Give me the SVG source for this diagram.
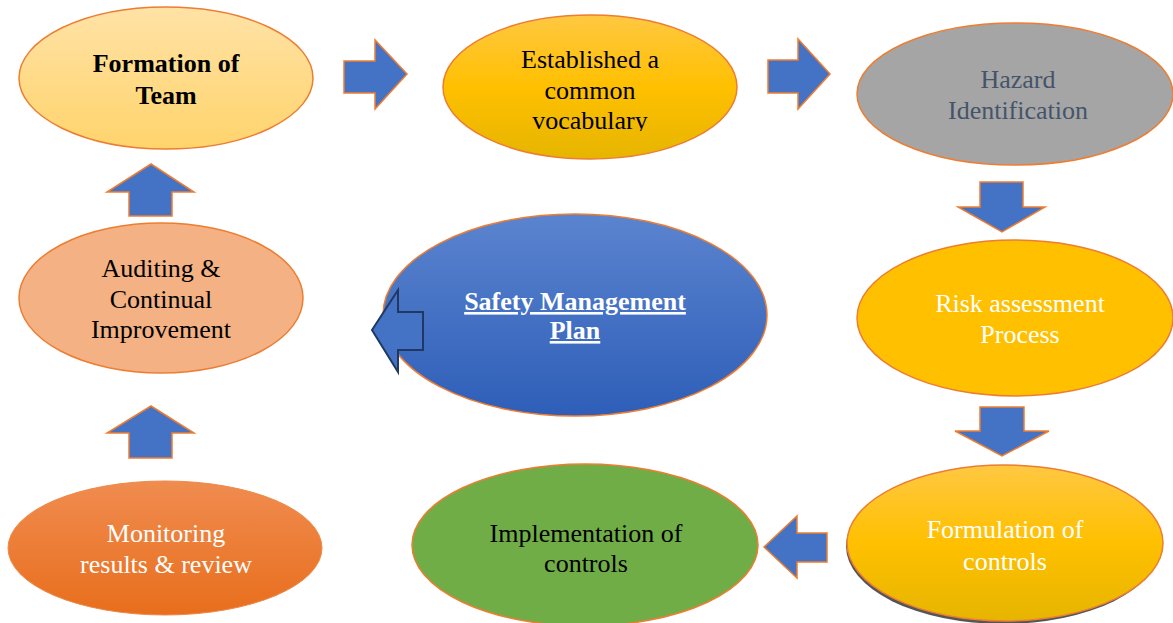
<svg xmlns="http://www.w3.org/2000/svg" width="1173" height="623" viewBox="0 0 1173 623">
  <defs>
    <linearGradient id="gFormation" x1="0" y1="0" x2="0" y2="1">
      <stop offset="0" stop-color="#FFE2A6"/>
      <stop offset="1" stop-color="#FFD46C"/>
    </linearGradient>
    <linearGradient id="gGold" x1="0" y1="0" x2="0" y2="1">
      <stop offset="0" stop-color="#FFC842"/>
      <stop offset="0.5" stop-color="#FFC000"/>
      <stop offset="1" stop-color="#E6B500"/>
    </linearGradient>
    <linearGradient id="gBlue" x1="0" y1="0" x2="0" y2="1">
      <stop offset="0" stop-color="#5B84CF"/>
      <stop offset="1" stop-color="#2E5EB8"/>
    </linearGradient>
    <linearGradient id="gOrange" x1="0" y1="0" x2="0" y2="1">
      <stop offset="0" stop-color="#F08C50"/>
      <stop offset="1" stop-color="#E86E1C"/>
    </linearGradient>
    <clipPath id="clipVocab">
      <rect x="440" y="0" width="300" height="131"/>
    </clipPath>
    <filter id="soft" x="-5%" y="-5%" width="110%" height="115%">
      <feGaussianBlur stdDeviation="0.6"/>
    </filter>
  </defs>
  <style>
    .node { stroke: #ED7D31; stroke-width: 1.5; }
    .lbl { font-family: "Liberation Serif", "Times New Roman", serif; font-size: 26px; text-anchor: middle; }
    .bold { font-weight: bold; }
    .dark { fill: #000000; }
    .light { fill: #FFFFFF; }
    .slate { fill: #44546A; }
    .arrow { fill: #4472C4; stroke: #ED7D31; stroke-width: 1.5; stroke-linejoin: miter; }
    .arrow-dark { fill: #4472C4; stroke: #1F3864; stroke-width: 2; stroke-linejoin: miter; }
  </style>

  <rect width="1173" height="623" fill="#FFFFFF"/>

  <!-- Nodes -->
  <g id="formation-of-team">
    <ellipse class="node" cx="166" cy="78" rx="147" ry="71" fill="url(#gFormation)"/>
    <text class="lbl bold dark" x="166" y="72">Formation of</text>
    <text class="lbl bold dark" x="166" y="104">Team</text>
  </g>

  <g id="common-vocabulary">
    <ellipse class="node" cx="590" cy="87" rx="147" ry="72" fill="url(#gGold)"/>
    <g clip-path="url(#clipVocab)">
      <text class="lbl dark" x="590" y="68">Established a</text>
      <text class="lbl dark" x="590" y="99">common</text>
      <text class="lbl dark" x="590" y="129">vocabulary</text>
    </g>
  </g>

  <g id="hazard-identification">
    <ellipse class="node" cx="1015" cy="94" rx="158" ry="71" fill="#A5A5A5" stroke-width="2"/>
    <text class="lbl slate" x="1018" y="88">Hazard</text>
    <text class="lbl slate" x="1018" y="119">Identification</text>
  </g>

  <g id="risk-assessment">
    <ellipse class="node" cx="1015" cy="318" rx="158" ry="78" fill="#FFC000" stroke-width="2"/>
    <text class="lbl light" x="1020" y="312">Risk assessment</text>
    <text class="lbl light" x="1020" y="343">Process</text>
  </g>

  <g id="formulation-of-controls">
    <!-- thin drop shadow along the lower-left rim -->
    <ellipse cx="1003" cy="546" rx="157" ry="78" fill="#555555" filter="url(#soft)"/>
    <ellipse class="node" cx="1005" cy="543" rx="158" ry="78" fill="url(#gGold)"/>
    <text class="lbl light" x="1005" y="538">Formulation of</text>
    <text class="lbl light" x="1005" y="570">controls</text>
  </g>

  <g id="implementation-of-controls">
    <ellipse class="node" cx="585" cy="545" rx="173" ry="81" fill="#70AD47" stroke-width="2.5"/>
    <text class="lbl dark" x="586" y="542">Implementation of</text>
    <text class="lbl dark" x="586" y="572">controls</text>
  </g>

  <g id="safety-management-plan">
    <ellipse class="node" cx="575" cy="315" rx="192" ry="101" fill="url(#gBlue)" stroke-width="1"/>
    <text class="lbl bold light" x="575" y="310" font-size="26.5" text-decoration="underline">Safety Management</text>
    <text class="lbl bold light" x="575" y="339" font-size="26.5" text-decoration="underline">Plan</text>
  </g>

  <g id="auditing-improvement">
    <ellipse class="node" cx="161" cy="298" rx="142" ry="75" fill="#F4B183"/>
    <text class="lbl dark" x="161" y="277">Auditing &amp;</text>
    <text class="lbl dark" x="161" y="308">Continual</text>
    <text class="lbl dark" x="161" y="338">Improvement</text>
  </g>

  <g id="monitoring-review">
    <ellipse cx="165" cy="548" rx="157" ry="67" fill="url(#gOrange)" stroke="#EE8A4A" stroke-width="1"/>
    <text class="lbl light" x="166" y="542">Monitoring</text>
    <text class="lbl light" x="166" y="573">results &amp; review</text>
  </g>

  <!-- Connectors: block arrows between the steps -->
  <g id="connectors">
    <!-- Formation -> Established -->
    <polygon class="arrow" points="344,61 375,61 375,40 407,74 375,109 375,93 344,93"/>
    <!-- Established -> Hazard -->
    <polygon class="arrow" points="768,60 798,60 798,39 830,74 798,109 798,93 768,93"/>
    <!-- Hazard -> Risk -->
    <polygon class="arrow" points="980,182 1023,182 1023,207 1045,207 1002,232 958,207 980,207"/>
    <!-- Risk -> Formulation -->
    <polygon class="arrow" points="980,407 1024,407 1024,431 1049,431 1002,456 955,431 980,431"/>
    <!-- Formulation -> Implementation -->
    <polygon class="arrow" points="827,533 797,533 797,516 764,547 797,578 797,562 827,562"/>
    <!-- Monitoring -> Auditing -->
    <polygon class="arrow" points="129,458 172,458 172,433 194,433 151,406 107,433 129,433"/>
    <!-- Auditing -> Formation -->
    <polygon class="arrow" points="129,216 172,216 172,192 194,192 151,164 107,192 129,192"/>
    <!-- Safety Management Plan feeding back -->
    <polygon class="arrow-dark" points="423,312 398,312 398,290 372,330 398,372 398,350 423,350"/>
  </g>
</svg>
